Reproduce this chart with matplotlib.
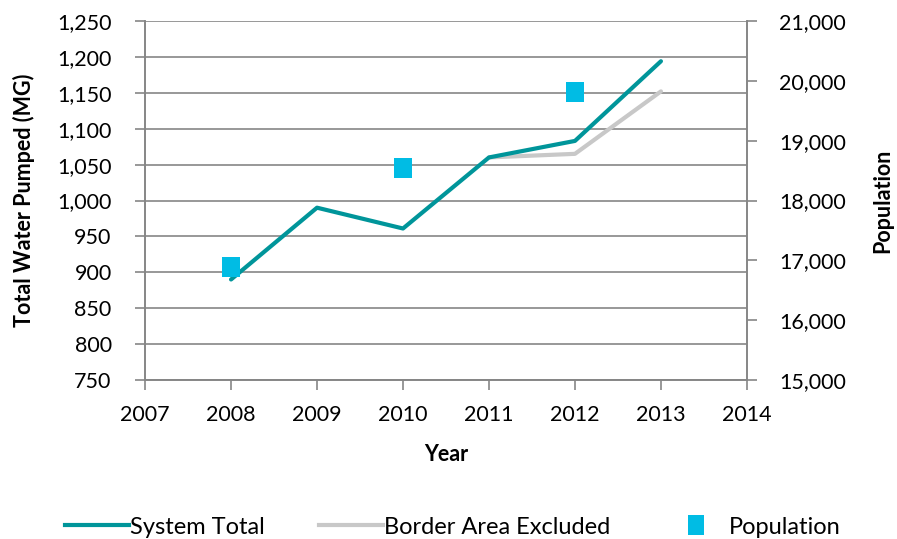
import matplotlib
matplotlib.use('Agg')
from matplotlib import pyplot as plt
from matplotlib import ticker
from matplotlib.lines import Line2D

years = [2008, 2009, 2010, 2011, 2012, 2013]
system_total = [890, 990, 961, 1060, 1083, 1194]
border_years = [2011, 2012, 2013]
border_excluded = [1060, 1065, 1152]
pop_years = [2008, 2010, 2012]
population = [16890, 18545, 19820]

TEAL = '#00959A'
LGREY = '#C8C8C8'
CYAN = '#00BCE4'
AXGREY = '#868686'

# slightly taller than wide, like the reference squares
RECT = [(-0.85, -1), (0.85, -1), (0.85, 1), (-0.85, 1), (-0.85, -1)]

plt.rcParams['font.family'] = ['Lato', 'DejaVu Sans']
plt.rcParams['font.size'] = 15.5

fig = plt.figure(figsize=(8.97, 5.39), dpi=100)
ax = fig.add_axes([0.1617, 0.295, 0.671, 0.666])
ax2 = ax.twinx()

ax.plot(years, system_total, color=TEAL, lw=3, solid_capstyle='round', zorder=4)
ax.plot(border_years, border_excluded, color=LGREY, lw=3, solid_capstyle='round', zorder=3)
ax2.plot(pop_years, population, ls='none', marker=RECT, ms=14.5, color=CYAN,
         markeredgewidth=0, zorder=5)

ax.set_xlim(2007, 2014)
ax.set_ylim(750, 1250)
ax.set_xticks(range(2007, 2015))
ax.set_yticks(range(750, 1251, 50))
ax.yaxis.set_major_formatter(ticker.StrMethodFormatter('{x:,.0f}'))
ax.grid(axis='y', color=AXGREY, lw=1.2)
ax.set_axisbelow(True)

ax2.set_ylim(15000, 21000)
ax2.set_yticks(range(15000, 21001, 1000))
ax2.yaxis.set_major_formatter(ticker.StrMethodFormatter('{x:,.0f}'))

for a in (ax, ax2):
    for s in a.spines.values():
        s.set_color(AXGREY)
        s.set_linewidth(1.2)
    a.spines['top'].set_visible(False)
    a.tick_params(color=AXGREY, width=1.2, length=7, labelsize=15.5)

ax.tick_params(axis='y', pad=17)
ax.tick_params(axis='x', pad=11)
ax2.tick_params(axis='y', pad=16)

ax.set_xlabel('Year', fontweight='bold', fontsize=15.5, labelpad=14)
ax.set_ylabel('Total Water Pumped (MG)', fontweight='bold', fontsize=15.5, labelpad=16)
ax2.set_ylabel('Population', fontweight='bold', fontsize=15.5, labelpad=19)

handles = [
    Line2D([], [], color=TEAL, lw=3),
    Line2D([], [], color=LGREY, lw=3),
    Line2D([], [], ls='none', marker=RECT, ms=14, color=CYAN, markeredgewidth=0),
]
fig.legend(handles, ['System Total', 'Border Area Excluded', 'Population'],
           loc='center', bbox_to_anchor=(0.505, 0.022), ncol=3, frameon=False,
           fontsize=17, handlelength=2.7, handletextpad=0.05, columnspacing=2.3)

fig.savefig('out.png', dpi=100)
